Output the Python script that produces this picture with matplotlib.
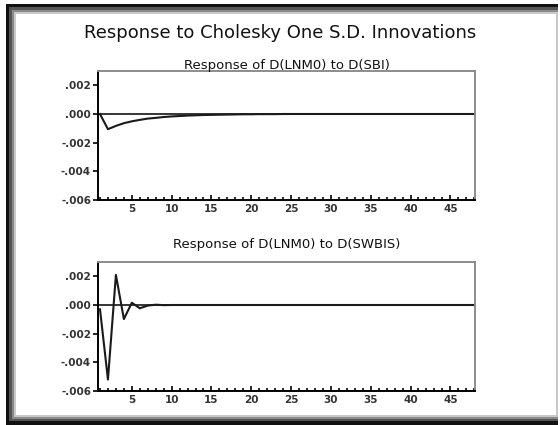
import numpy as np
import matplotlib
matplotlib.use('Agg')
import matplotlib.pyplot as plt
from matplotlib.patches import Rectangle
from matplotlib.ticker import MultipleLocator

# impulse responses (48 periods)
periods = list(range(1, 49))
resp_sbi = [0.0, -0.00106, -0.00083, -0.00064, -0.00051, -0.00041, -0.00032,
            -0.00027, -0.00021, -0.00017, -0.00014, -0.00011, -0.00009,
            -0.00007, -0.00006, -0.00005, -0.00004, -0.00003, -0.00002,
            -0.00002, -0.00001, -0.00001, -0.00001, 0.0, 0.0, 0.0, 0.0, 0.0,
            0.0, 0.0, 0.0, 0.0, 0.0, 0.0, 0.0, 0.0, 0.0, 0.0, 0.0, 0.0, 0.0,
            0.0, 0.0, 0.0, 0.0, 0.0, 0.0, 0.0]
resp_swbis = [-0.0003, -0.0052, 0.0021, -0.00098, 0.00016, -0.00023,
              -0.00004, 0.00002, -0.00001, 0.0, 0.0, 0.0, 0.0, 0.0, 0.0, 0.0,
              0.0, 0.0, 0.0, 0.0, 0.0, 0.0, 0.0, 0.0, 0.0, 0.0, 0.0, 0.0, 0.0,
              0.0, 0.0, 0.0, 0.0, 0.0, 0.0, 0.0, 0.0, 0.0, 0.0, 0.0, 0.0, 0.0,
              0.0, 0.0, 0.0, 0.0, 0.0, 0.0]

main_title = 'Response to Cholesky One S.D. Innovations'
titles = ['Response of D(LNM0) to D(SBI)', 'Response of D(LNM0) to D(SWBIS)']
ytick_vals = [-0.006, -0.004, -0.002, 0.0, 0.002]
ytick_labels = ['-.006', '-.004', '-.002', '.000', '.002']

W, H = 560, 425
fig = plt.figure(figsize=(W / 100, H / 100), dpi=100)
fig.patch.set_facecolor('white')


def px_rect(x0, y0, x1, y1, color):
    # rectangle given in pixel coords measured from top-left
    r = Rectangle((x0 / W, 1 - y1 / H), (x1 - x0) / W, (y1 - y0) / H,
                  transform=fig.transFigure, facecolor=color,
                  edgecolor='none', zorder=-10)
    fig.add_artist(r)


# bevelled frame around the page
px_rect(6, 4, 558, 440, '#111111')
px_rect(9, 7, 558, 421, '#555555')
px_rect(12, 10, 558, 419, '#8a8a8a')
px_rect(14, 12, 558, 417, '#c8c8c8')
px_rect(16, 14, 556, 415, 'white')

fig.text(0.5, 1 - 33 / H, main_title, ha='center', va='center',
         fontsize=13, family='DejaVu Sans', color='#111111')

boxes = [(98, 71, 475, 200), (98, 262, 475, 391)]
series = [resp_sbi, resp_swbis]
title_y = [66, 245]

for (x0, y0, x1, y1), vals, ttl, ty in zip(boxes, series, titles, title_y):
    ax = fig.add_axes([x0 / W, 1 - y1 / H, (x1 - x0) / W, (y1 - y0) / H])
    ax.axhline(0, color='black', lw=1.1, zorder=1)
    ax.plot(periods, vals, color='#1a1a1a', lw=1.5, zorder=2)
    ax.set_xlim(0.75, 48.1)
    ax.set_ylim(-0.006, 0.003)
    ax.set_yticks(ytick_vals)
    ax.set_yticklabels(ytick_labels)
    ax.xaxis.set_minor_locator(MultipleLocator(1))
    ax.set_xticks([5, 10, 15, 20, 25, 30, 35, 40, 45])
    ax.tick_params(axis='x', which='major', direction='in', length=3.5,
                   width=1.2, labelsize=7.5, pad=3, colors='black')
    ax.tick_params(axis='x', which='minor', direction='in', length=2,
                   width=1.2)
    ax.tick_params(axis='y', direction='out', length=3.5, width=1.2,
                   labelsize=7.5, pad=1.5)
    for lab in ax.get_xticklabels() + ax.get_yticklabels():
        lab.set_fontweight('bold')
        lab.set_family('DejaVu Sans')
        lab.set_color('#333333')
    for side in ['left', 'bottom']:
        ax.spines[side].set_linewidth(1.4)
        ax.spines[side].set_color('black')
    for side in ['top', 'right']:
        ax.spines[side].set_linewidth(1.4)
        ax.spines[side].set_color('#8c8c8c')
    fig.text((x0 + x1) / 2 / W, 1 - ty / H, ttl, ha='center', va='center',
             fontsize=9.5, family='DejaVu Sans', color='#111111')

fig.savefig('out.png', dpi=100)
